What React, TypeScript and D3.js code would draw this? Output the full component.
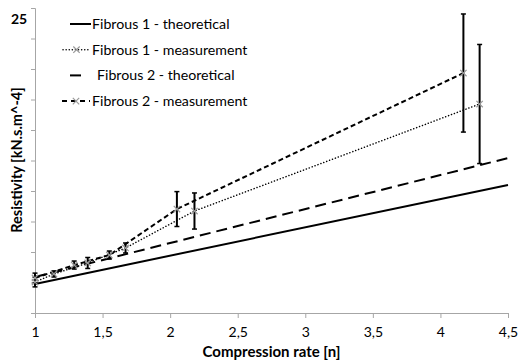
import { useEffect, useRef } from 'react';
import * as d3 from 'd3';

// theoretical lines (end points)
const theoX = [1, 4.5];
const fib1Theo = [2.38, 10.5];
const fib2Theo = [2.95, 12.7];

// measurements with error (+/-)
const fib1X = [1, 1.14, 1.39, 1.67, 2.18, 4.29];
const fib1Y = [2.54, 3.2, 4.1, 5.33, 8.36, 17.13];
const fib1Err = [0.4, 0.25, 0.45, 0.41, 1.48, 4.88];

const fib2X = [1, 1.29, 1.55, 2.05, 4.17];
const fib2Y = [2.87, 3.93, 4.75, 8.52, 19.67];
const fib2Err = [0.4, 0.33, 0.33, 1.43, 4.84];

const xTicks = [1, 1.5, 2, 2.5, 3, 3.5, 4, 4.5];
const yTicks = d3.range(0, 25.01, 2.5);

const legendLabels = [
  'Fibrous 1 - theoretical',
  'Fibrous 1 - measurement',
  'Fibrous 2 - theoretical',
  'Fibrous 2 - measurement',
];

const FONT = 'Lato, "Open Sans", sans-serif';

const ResistivityChart = () => {
  const svgRef = useRef<SVGSVGElement>(null);

  useEffect(() => {
    const W = 518;
    const H = 361;
    const margin = { top: 8, right: 10, bottom: 48, left: 35 };

    const svg = d3.select(svgRef.current);
    svg.selectAll('*').remove();

    const x = d3
      .scaleLinear()
      .domain([1, 4.5])
      .range([margin.left, W - margin.right]);
    const y = d3
      .scaleLinear()
      .domain([0, 25])
      .range([H - margin.bottom, margin.top]);

    const axisColor = '#a6a6a6';

    // y axis
    const yAxis = svg
      .append('g')
      .attr('transform', `translate(${margin.left},0)`)
      .call(d3.axisLeft(y).tickValues(yTicks).tickSize(4).tickFormat(() => ''));
    yAxis.select('.domain').attr('stroke', axisColor);
    yAxis.selectAll('line').attr('stroke', axisColor);

    // x axis
    const xAxis = svg
      .append('g')
      .attr('transform', `translate(0,${H - margin.bottom})`)
      .call(
        d3
          .axisBottom(x)
          .tickValues(xTicks)
          .tickSize(5)
          .tickPadding(9)
          .tickFormat((d) => String(d).replace('.', ','))
      );
    xAxis.select('.domain').attr('stroke', axisColor);
    xAxis.selectAll('line').attr('stroke', axisColor);
    xAxis
      .selectAll('text')
      .attr('fill', '#000')
      .style('font-family', FONT)
      .style('font-size', '14px');

    // only the top label is shown
    svg
      .append('text')
      .attr('x', 19)
      .attr('y', y(25) + 16)
      .attr('text-anchor', 'middle')
      .style('font-family', FONT)
      .style('font-size', '14px')
      .style('font-weight', 'bold')
      .text('25');

    // axis titles
    svg
      .append('text')
      .attr('x', x(2.75))
      .attr('y', H - 4)
      .attr('text-anchor', 'middle')
      .style('font-family', FONT)
      .style('font-size', '15px')
      .style('font-weight', 'bold')
      .text('Compression rate [n]');

    svg
      .append('text')
      .attr('transform', `translate(22,160) rotate(-90)`)
      .attr('text-anchor', 'middle')
      .style('font-family', FONT)
      .style('font-size', '14.5px')
      .style('font-weight', 'bold')
      .text('Resistivity [kN.s.m^-4]');

    const line = d3
      .line<[number, number]>()
      .x((d) => x(d[0]))
      .y((d) => y(d[1]));

    const zip = (xs: number[], ys: number[]) =>
      xs.map((v, i) => [v, ys[i]] as [number, number]);

    // theoretical
    svg
      .append('path')
      .attr('d', line(zip(theoX, fib1Theo)))
      .attr('fill', 'none')
      .attr('stroke', '#000')
      .attr('stroke-width', 2);
    svg
      .append('path')
      .attr('d', line(zip(theoX, fib2Theo)))
      .attr('fill', 'none')
      .attr('stroke', '#000')
      .attr('stroke-width', 2)
      .attr('stroke-dasharray', '11,6');

    // measurements
    svg
      .append('path')
      .attr('d', line(zip(fib1X, fib1Y)))
      .attr('fill', 'none')
      .attr('stroke', '#000')
      .attr('stroke-width', 1.5)
      .attr('stroke-linecap', 'round')
      .attr('stroke-dasharray', '0.1,3');
    svg
      .append('path')
      .attr('d', line(zip(fib2X, fib2Y)))
      .attr('fill', 'none')
      .attr('stroke', '#000')
      .attr('stroke-width', 2)
      .attr('stroke-dasharray', '5,3');

    const drawErr = (xs: number[], ys: number[], es: number[]) => {
      xs.forEach((xv, i) => {
        const g = svg.append('g').attr('stroke', '#000');
        const px = x(xv);
        const y0 = y(ys[i] - es[i]);
        const y1 = y(ys[i] + es[i]);
        g.append('line')
          .attr('x1', px)
          .attr('x2', px)
          .attr('y1', y0)
          .attr('y2', y1)
          .attr('stroke-width', 2);
        [y0, y1].forEach((yy) => {
          g.append('line')
            .attr('x1', px - 2.5)
            .attr('x2', px + 2.5)
            .attr('y1', yy)
            .attr('y2', yy)
            .attr('stroke-width', 1.5);
        });
      });
    };
    drawErr(fib1X, fib1Y, fib1Err);
    drawErr(fib2X, fib2Y, fib2Err);

    const drawMarker = (g: any, px: number, py: number) => {
      const s = 3.2;
      g.append('path')
        .attr('d', `M${px - s},${py - s}L${px + s},${py + s}M${px - s},${py + s}L${px + s},${py - s}`)
        .attr('stroke', '#999')
        .attr('stroke-width', 1.2)
        .attr('fill', 'none');
    };
    fib1X.forEach((xv, i) => drawMarker(svg, x(xv), y(fib1Y[i])));
    fib2X.forEach((xv, i) => drawMarker(svg, x(xv), y(fib2Y[i])));

    // legend
    const legend = svg.append('g');
    const rowY = (i: number) => 24 + i * 25.7;
    legendLabels.forEach((label, i) => {
      const cy = rowY(i);
      legend
        .append('text')
        .attr('x', i === 2 ? 97 : 92)
        .attr('y', cy + 5)
        .style('font-family', FONT)
        .style('font-size', '14.2px')
        .attr('fill', '#000')
        .text(label);
    });
    legend
      .append('line')
      .attr('x1', 70)
      .attr('x2', 91)
      .attr('y1', rowY(0))
      .attr('y2', rowY(0))
      .attr('stroke', '#000')
      .attr('stroke-width', 2);
    legend
      .append('line')
      .attr('x1', 63)
      .attr('x2', 90)
      .attr('y1', rowY(1))
      .attr('y2', rowY(1))
      .attr('stroke', '#000')
      .attr('stroke-width', 1.5)
      .attr('stroke-linecap', 'round')
      .attr('stroke-dasharray', '0.1,3');
    drawMarker(legend, 76.5, rowY(1));
    legend
      .append('line')
      .attr('x1', 70)
      .attr('x2', 81)
      .attr('y1', rowY(2))
      .attr('y2', rowY(2))
      .attr('stroke', '#000')
      .attr('stroke-width', 2);
    legend
      .append('line')
      .attr('x1', 62)
      .attr('x2', 90)
      .attr('y1', rowY(3))
      .attr('y2', rowY(3))
      .attr('stroke', '#000')
      .attr('stroke-width', 2)
      .attr('stroke-dasharray', '5,4');
    drawMarker(legend, 76, rowY(3));
  }, []);

  return (
    <svg
      ref={svgRef}
      width={518}
      height={361}
      style={{ position: 'absolute', left: 0, top: 0, background: '#fff' }}
    />
  );
};

export default function App() {
  return <ResistivityChart />;
}
